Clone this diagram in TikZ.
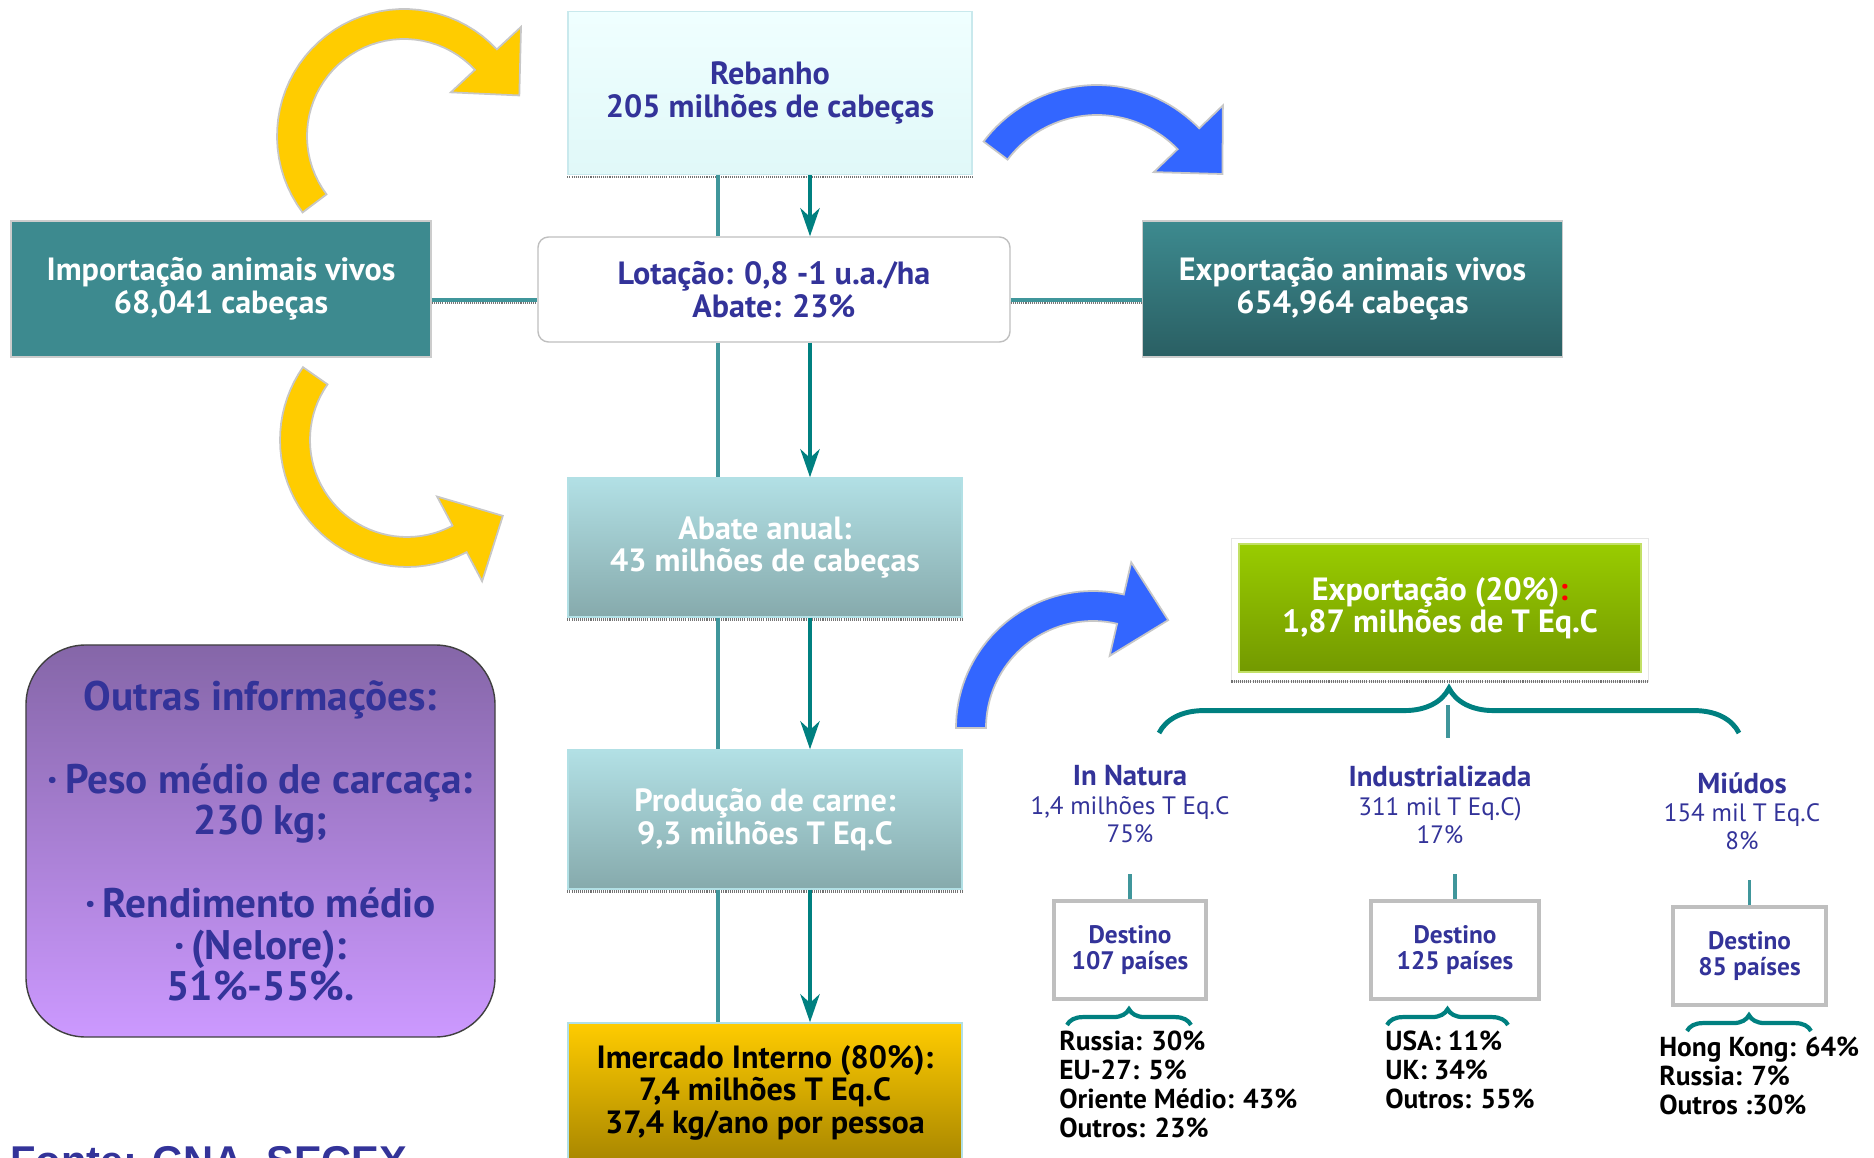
\documentclass[tikz,border=0pt]{standalone}
\usepackage{fontspec}
\setmainfont{PT Sans}
\newfontfamily\fontefont{Liberation Sans}
\definecolor{navytext}{RGB}{51, 51, 153}
\definecolor{tealdark}{RGB}{0, 128, 128}
\definecolor{teallight}{RGB}{64, 150, 155}
\definecolor{tealbox}{RGB}{61, 138, 143}
\definecolor{tealdeep}{RGB}{42, 95, 99}
\definecolor{paletop}{RGB}{240, 255, 255}
\definecolor{palebot}{RGB}{224, 248, 248}
\definecolor{aquatop}{RGB}{178, 224, 229}
\definecolor{aquabot}{RGB}{134, 170, 172}
\definecolor{goldtop}{RGB}{255, 204, 0}
\definecolor{goldbot}{RGB}{168, 134, 0}
\definecolor{lilactop}{RGB}{133, 102, 168}
\definecolor{lilacbot}{RGB}{204, 153, 255}
\definecolor{limetop}{RGB}{153, 204, 0}
\definecolor{limebot}{RGB}{115, 153, 0}
\definecolor{arrowyellow}{RGB}{255, 204, 0}
\definecolor{arrowblue}{RGB}{51, 102, 255}
\usetikzlibrary{arrows.meta, decorations.pathreplacing}

% bent block arrow: colour, cx, cy, radius, start angle, end angle, sense
\newcommand{\bentarrow}[7]{%
  \fill[#1, draw=black!22, line width=1pt]
    plot[domain=#5:#6, samples=40] ({#2+(#4+15)*cos(\x)}, {#3+(#4+15)*sin(\x)})
    -- ({#2+(#4+48)*cos(#6)}, {#3+(#4+48)*sin(#6)})
    -- ({#2+#4*cos(#6)-(#7)*49*sin(#6)}, {#3+#4*sin(#6)+(#7)*49*cos(#6)})
    -- ({#2+(#4-48)*cos(#6)}, {#3+(#4-48)*sin(#6)})
    -- plot[domain=#6:#5, samples=40] ({#2+(#4-15)*cos(\x)}, {#3+(#4-15)*sin(\x)})
    -- cycle;}

\begin{document}
\begin{tikzpicture}[x=0.2mm, y=-0.2mm,
  every node/.style={align=center},
  bigfont/.style={font=\fontsize{18.3}{18.5}\selectfont\bfseries},
  palebox/.style={bigfont, minimum width=80.8mm, minimum height=32.6mm, top color=paletop, bottom color=palebot, draw=aquatop!70, line width=0.8pt, text=navytext},
  lotbox/.style={bigfont, minimum width=94.4mm, minimum height=21mm, rounded corners=6pt, fill=white, draw=black!25, line width=0.8pt, text=navytext},
  livebox/.style={bigfont, minimum width=84mm, minimum height=27.2mm, draw=black!20, line width=1pt, text=white},
  flowbox/.style={bigfont, minimum width=78.8mm, minimum height=27.8mm, top color=aquatop, bottom color=aquabot, draw=aquatop, line width=0.8pt, text=white},
  infobox/.style={font=\fontsize{23.5}{23.6}\selectfont\bfseries, minimum width=93.8mm, minimum height=78.4mm, rounded corners=34pt, top color=lilactop, bottom color=lilacbot, draw=black!75, line width=0.8pt, text=navytext},
  greenbox/.style={bigfont, minimum width=80.4mm, minimum height=25.6mm, top color=limetop, bottom color=limebot, draw=limetop!60, line width=0.6pt, text=white},
  catlabel/.style={font=\fontsize{14.3}{16}\selectfont, text=navytext},
  destbox/.style={font=\fontsize{14.4}{14.6}\selectfont\bfseries, minimum width=30.4mm, minimum height=19.6mm, fill=white, draw=black!25, line width=1.8pt, text=navytext},
  listtext/.style={font=\fontsize{15.6}{16.5}\selectfont\bfseries, align=left, anchor=west, inner sep=0pt},
  thinlink/.style={draw=teallight, line width=1.8pt},
  flowarrow/.style={draw=tealdark, line width=2.3pt, -{Stealth[length=16pt, width=11pt, inset=5pt]}},
  sidelink/.style={draw=teallight, line width=2pt, postaction={draw=black!55, line width=1.2pt, dash pattern=on 0.6pt off 0.6pt, transform canvas={yshift=-1.6pt}}},
  boxrule/.style={draw=black!55, line width=1.4pt, dash pattern=on 0.6pt off 0.6pt},
  stub/.style={draw=teallight, line width=2.2pt},
  bigbrace/.style={draw=tealdark, line width=2.8pt, decorate, decoration={brace, amplitude=25.5pt}},
  smallbrace/.style={draw=tealdark, line width=2.4pt, decorate, decoration={brace, amplitude=9pt}}]

  \path[use as bounding box, clip] (0,0) rectangle (1874,1158);

  % curved arrows
  \bentarrow{arrowyellow}{404}{136}{112}{143}{317}{1}
  \bentarrow{arrowyellow}{407}{440}{112}{215}{62}{-1}
  \bentarrow{arrowblue}{1097}{227}{127}{-143}{-44}{1}
  \bentarrow{arrowblue}{1093}{728}{122}{180}{283}{1}

  % main column
  \node[palebox] (reb) at (770,93) {Rebanho\\205 milhões de cabeças};
  \node[lotbox] (lot) at (774,289.5) {Lotação: 0,8 -1 u.a./ha\\Abate: 23\%};
  \node[livebox, fill=tealbox] (imp) at (221,289) {Importação animais vivos\\68,041 cabeças};
  \node[livebox, top color=tealbox, bottom color=tealdeep] (expv) at (1352.5,289) {Exportação animais vivos\\654,964 cabeças};
  \node[flowbox] (abt) at (765,547.5) {Abate anual:\\43 milhões de cabeças};
  \node[flowbox] (prod) at (765,819.5) {Produção de carne:\\9,3 milhões T Eq.C};
  \node[flowbox, top color=goldtop, bottom color=goldbot, text=black] (merc) at (765,1092.5) {Imercado Interno (80\%):\\7,4 milhões T Eq.C\\37,4 kg/ano por pessoa};

  \foreach \n in {reb, abt, prod}
    \draw[boxrule] ([yshift=-1pt]\n.south west) -- ([yshift=-1pt]\n.south east);

  % links
  \coordinate (lx) at (718,0);
  \coordinate (ax) at (810,0);
  \coordinate (hy) at (0,300);
  \foreach \a/\b in {reb/lot, lot/abt, abt/prod, prod/merc} {
    \draw[thinlink] (\a.south -| lx) -- (\b.north -| lx);
    \draw[flowarrow] (\a.south -| ax) -- (\b.north -| ax);
  }
  \draw[sidelink] (imp.east |- hy) -- (lot.west |- hy);
  \draw[sidelink] (lot.east |- hy) -- (expv.west |- hy);

  % other information
  \node[infobox] (info) at (260.5,841) {Outras informações:\\[23.6pt]
    ·\,Peso médio de carcaça:\\230 kg;\\[23.6pt]
    ·\,Rendimento médio\\·\,(Nelore):\\51\%-55\%.};

  % export branch
  \node[greenbox] (exp20) at (1440,608) {Exportação (20\%)\textcolor{red}{:}\\1,87 milhões de T Eq.C};
  \draw[black!10, line width=0.6pt] ([xshift=-4pt, yshift=3pt]exp20.north west) rectangle ([xshift=4pt, yshift=-5pt]exp20.south east);
  \draw[boxrule] ([xshift=-4pt, yshift=-5pt]exp20.south west) -- ([xshift=4pt, yshift=-5pt]exp20.south east);

  \draw[bigbrace] (1159,733) -- (1739,733);
  \draw[stub] (1448,705) -- (1448,738);

  \node[catlabel] (nat) at (1130,804) {{\fontsize{16.4}{16}\selectfont\bfseries In Natura}\\1,4 milhões T Eq.C\\75\%};
  \node[catlabel] (ind) at (1440,805) {{\fontsize{16.4}{16}\selectfont\bfseries Industrializada}\\311 mil T Eq.C)\\17\%};
  \node[catlabel] (miu) at (1742,811) {{\fontsize{16.4}{16}\selectfont\bfseries Miúdos}\\154 mil T Eq.C\\8\%};

  \node[destbox] (dest1) at (1130,950) {Destino\\107 países};
  \node[destbox, minimum width=33.6mm] (dest2) at (1455,950) {Destino\\125 países};
  \node[destbox, minimum width=30.6mm] (dest3) at (1749.5,956) {Destino\\85 países};

  \foreach \d in {dest1, dest2, dest3}
    \draw[stub] (\d.north) -- ++(0,-25);

  \draw[smallbrace] (1067,1025) -- (1191,1025);
  \draw[smallbrace] (1387,1025) -- (1508,1025);
  \draw[smallbrace] (1687,1031) -- (1811,1031);

  \node[listtext] (lst1) at (1059,1084.5) {Russia: 30\%\\EU-27: 5\%\\Oriente Médio: 43\%\\Outros: 23\%};
  \node[listtext] (lst2) at (1385,1070) {USA: 11\%\\UK: 34\%\\Outros: 55\%};
  \node[listtext] (lst3) at (1659,1076) {Hong Kong: 64\%\\Russia: 7\%\\Outros :30\%};

  % source
  \node[anchor=base west, inner sep=0pt, font=\fontefont\bfseries\fontsize{23.7}{26}\selectfont, text=navytext] (fonte) at (10,1175) {Fonte: CNA, SECEX};
\end{tikzpicture}
\end{document}
